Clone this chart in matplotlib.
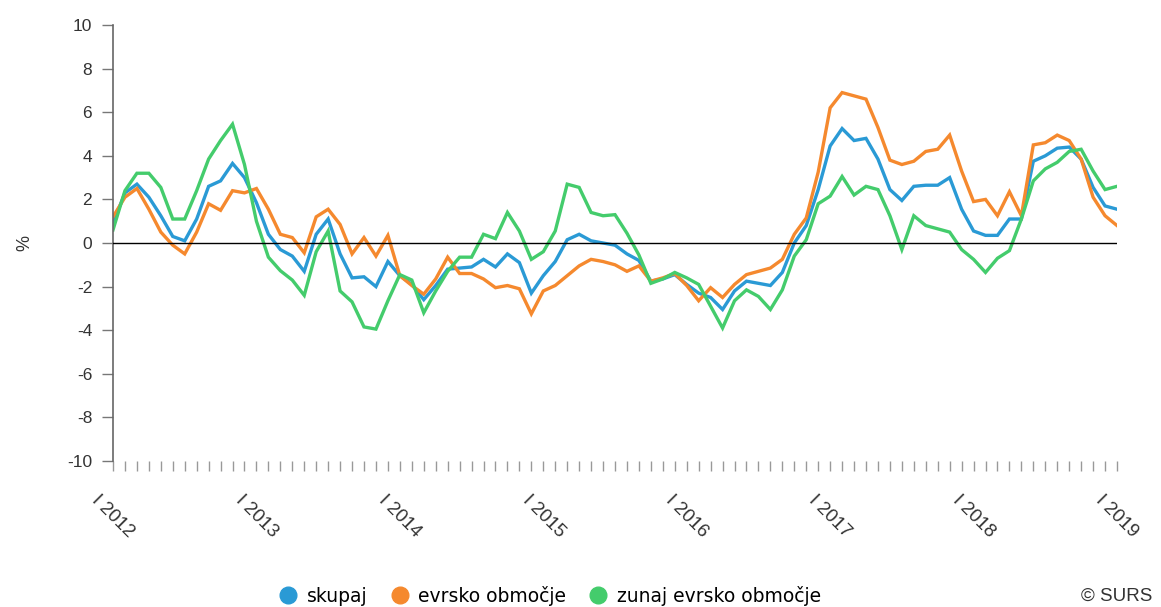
import matplotlib
matplotlib.use("Agg")
import matplotlib.pyplot as plt
from matplotlib.lines import Line2D
import numpy as np

years = [2012, 2013, 2014, 2015, 2016, 2017, 2018, 2019]
year_labels = ["I " + str(y) for y in years]

skupaj = [0.9, 2.3, 2.7, 2.1, 1.25, 0.3, 0.1, 1.1, 2.6, 2.85, 3.65, 3.0,
          1.85, 0.4, -0.3, -0.6, -1.3, 0.4, 1.1, -0.5, -1.6, -1.55, -2.0, -0.85,
          -1.5, -1.9, -2.6, -1.95, -1.2, -1.15, -1.1, -0.75, -1.1, -0.5, -0.9, -2.3,
          -1.5, -0.85, 0.15, 0.4, 0.1, 0.0, -0.1, -0.5, -0.8, -1.75, -1.65, -1.45,
          -1.9, -2.3, -2.5, -3.05, -2.2, -1.75, -1.85, -1.95, -1.35, 0.0, 0.8, 2.45,
          4.45, 5.25, 4.7, 4.8, 3.85, 2.45, 1.95, 2.6, 2.65, 2.65, 3.0, 1.55,
          0.55, 0.35, 0.35, 1.1, 1.1, 3.75, 4.0, 4.35, 4.4, 3.85, 2.55, 1.7,
          1.55]

evrsko = [1.2, 2.1, 2.5, 1.55, 0.5, -0.1, -0.5, 0.5, 1.8, 1.5, 2.4, 2.3,
          2.5, 1.55, 0.4, 0.25, -0.45, 1.2, 1.55, 0.85, -0.5, 0.25, -0.6, 0.35,
          -1.5, -1.95, -2.35, -1.65, -0.65, -1.4, -1.4, -1.65, -2.05, -1.95, -2.1, -3.25,
          -2.2, -1.95, -1.5, -1.05, -0.75, -0.85, -1.0, -1.3, -1.05, -1.75, -1.6, -1.4,
          -1.95, -2.65, -2.05, -2.5, -1.9, -1.45, -1.3, -1.15, -0.75, 0.4, 1.15, 3.25,
          6.2, 6.9, 6.75, 6.6, 5.3, 3.8, 3.6, 3.75, 4.2, 4.3, 4.95, 3.3,
          1.9, 2.0, 1.25, 2.35, 1.25, 4.5, 4.6, 4.95, 4.7, 3.85, 2.1, 1.25,
          0.8]

zunaj = [0.6, 2.4, 3.2, 3.2, 2.55, 1.1, 1.1, 2.4, 3.85, 4.7, 5.45, 3.6,
         1.0, -0.65, -1.27, -1.7, -2.4, -0.4, 0.55, -2.2, -2.7, -3.85, -3.95, -2.65,
         -1.45, -1.7, -3.2, -2.2, -1.3, -0.65, -0.65, 0.4, 0.2, 1.4, 0.55, -0.75,
         -0.4, 0.55, 2.7, 2.55, 1.4, 1.25, 1.3, 0.45, -0.55, -1.85, -1.65, -1.35,
         -1.6, -1.9, -2.9, -3.9, -2.65, -2.15, -2.45, -3.05, -2.15, -0.6, 0.15, 1.8,
         2.15, 3.05, 2.2, 2.6, 2.45, 1.25, -0.3, 1.25, 0.8, 0.65, 0.5, -0.3,
         -0.75, -1.35, -0.7, -0.35, 1.1, 2.85, 3.4, 3.7, 4.2, 4.3, 3.3, 2.45,
         2.6]

series_names = ["skupaj", "evrsko območje", "zunaj evrsko območje"]
colors = ["#2a9ad5", "#f5892e", "#44cc6c"]

plt.rcParams['font.family'] = ['Liberation Sans', 'DejaVu Sans']
plt.rcParams['axes.unicode_minus'] = False

fig = plt.figure(figsize=(11.61, 6.07), dpi=100)
ax = fig.add_axes([113/1161, 146/607, 1004/1161, 436/607])

x = np.arange(len(skupaj))
for data, c in zip([skupaj, evrsko, zunaj], colors):
    ax.plot(x, data, color=c, lw=2.4, solid_joinstyle='miter')

ax.axhline(0, color='black', lw=1.0, zorder=5)

ax.set_xlim(0, len(skupaj) - 1)
ax.set_ylim(-10, 10)
ax.set_yticks(np.arange(-10, 11, 2))
ax.tick_params(axis='y', direction='out', length=8, width=1, color='#777777',
               labelsize=12.5, labelcolor='#333333', pad=7)

ticks = list(range(len(skupaj)))
labels = []
for i in ticks:
    if i % 12 == 0:
        labels.append(year_labels[i // 12])
    else:
        labels.append("")
ax.set_xticks(ticks)
ax.set_xticklabels(labels, rotation=-45, ha='center', va='top')
ax.tick_params(axis='x', direction='out', length=7, width=1, color='#999999',
               labelsize=13.5, labelcolor='#333333', pad=15)

for s in ['top', 'right', 'bottom']:
    ax.spines[s].set_visible(False)
ax.spines['left'].set_color('#666666')
ax.spines['left'].set_linewidth(1.2)

ax.set_ylabel('%', fontsize=13, color='#333333', labelpad=24)

handles = [Line2D([], [], marker='o', linestyle='none', markersize=12,
                  markerfacecolor=c, markeredgecolor=c) for c in colors]
fig.legend(handles, series_names, loc='center', bbox_to_anchor=(550/1161, 1 - 596/607),
           ncol=3, frameon=False, handletextpad=0.5, columnspacing=1.2,
           handlelength=1.0, prop={'family': 'DejaVu Sans', 'size': 13.5})

fig.text(1152/1161, 1 - 596/607, '© SURS', ha='right', va='center', fontsize=13.5,
         color='#333333')

fig.savefig('out.png', dpi=100)
